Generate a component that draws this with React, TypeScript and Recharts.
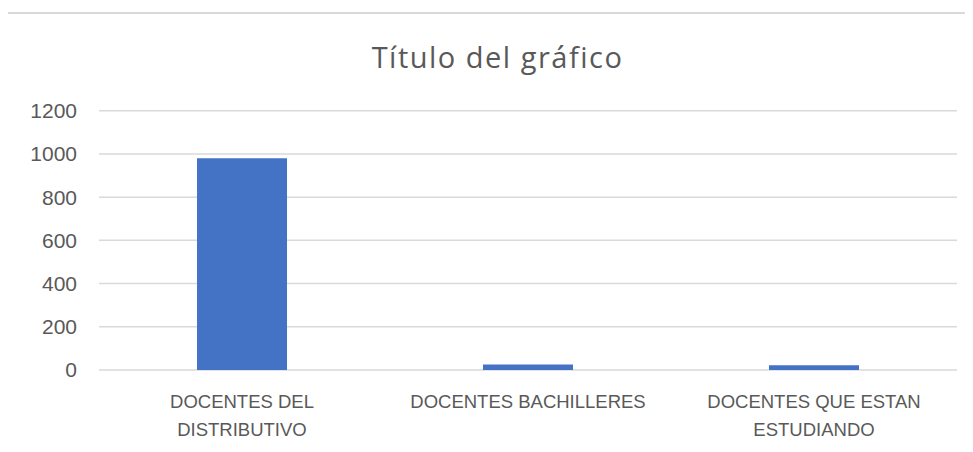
import React from "react";
import { BarChart, Bar, XAxis, YAxis, CartesianGrid } from "recharts";

const categories = [
  "DOCENTES DEL DISTRIBUTIVO",
  "DOCENTES BACHILLERES",
  "DOCENTES QUE ESTAN ESTUDIANDO",
];
const values = [980, 26, 22];
const yTicks = [0, 200, 400, 600, 800, 1000, 1200];
const seriesName = "Serie 1";
const title = "Título del gráfico";

const data = categories.map((name, i) => ({ name, [seriesName]: values[i] }));

const labelColor = "#595959";
const gridColor = "#d9d9d9";
const labelFont = "'Liberation Sans', Arial, sans-serif";

// simple word wrap, roughly what Excel does for these category labels
function wrapLabel(s: string, maxChars = 20) {
  const lines: string[] = [];
  let cur = "";
  for (const w of s.split(" ")) {
    const next = cur ? cur + " " + w : w;
    if (next.length > maxChars && cur) {
      lines.push(cur);
      cur = w;
    } else {
      cur = next;
    }
  }
  if (cur) lines.push(cur);
  return lines;
}

function CategoryTick({ x, y, payload }: { x?: number; y?: number; payload?: { value: string } }) {
  const lines = wrapLabel(payload?.value ?? "");
  return (
    <text
      x={x}
      y={(y ?? 0) + 30}
      textAnchor="middle"
      fill={labelColor}
      fontSize={18.5}
      fontFamily={labelFont}
    >
      {lines.map((l, i) => (
        <tspan key={i} x={x} dy={i === 0 ? 0 : 27.5}>
          {l}
        </tspan>
      ))}
    </text>
  );
}

export default function App() {
  return (
    <div
      style={{
        position: "relative",
        margin: -8,
        width: 973,
        height: 452,
        overflow: "hidden",
        background: "#fff",
      }}
    >
      <div
        style={{
          position: "absolute",
          left: 5,
          top: 12,
          width: 1000,
          height: 460,
          borderTop: `2px solid ${gridColor}`,
          borderLeft: `2px solid ${gridColor}`,
        }}
      />
      <div
        style={{
          position: "absolute",
          left: 0,
          width: 995,
          top: 37,
          textAlign: "center",
          fontFamily: "'Open Sans', sans-serif",
          fontSize: 29,
          letterSpacing: 1.5,
          color: labelColor,
          lineHeight: "40px",
        }}
      >
        {title}
      </div>
      <div style={{ position: "absolute", left: 0, top: 0 }}>
        <BarChart
          width={973}
          height={452}
          data={data}
          margin={{ top: 110.7, right: 16, bottom: 12, left: 39 }}
        >
          <CartesianGrid
            vertical={false}
            stroke={gridColor}
            strokeWidth={1.5}
          />
          <XAxis
            dataKey="name"
            axisLine={false}
            tickLine={false}
            interval={0}
            height={70}
            tick={<CategoryTick />}
          />
          <YAxis
            width={60}
            domain={[0, 1200]}
            ticks={yTicks}
            axisLine={false}
            tickLine={false}
            tickMargin={16}
            tick={{ fontSize: 21, fill: labelColor, fontFamily: labelFont }}
          />
          <Bar
            dataKey={seriesName}
            fill="#4472C4"
            barSize={90}
            isAnimationActive={false}
          />
        </BarChart>
      </div>
    </div>
  );
}
